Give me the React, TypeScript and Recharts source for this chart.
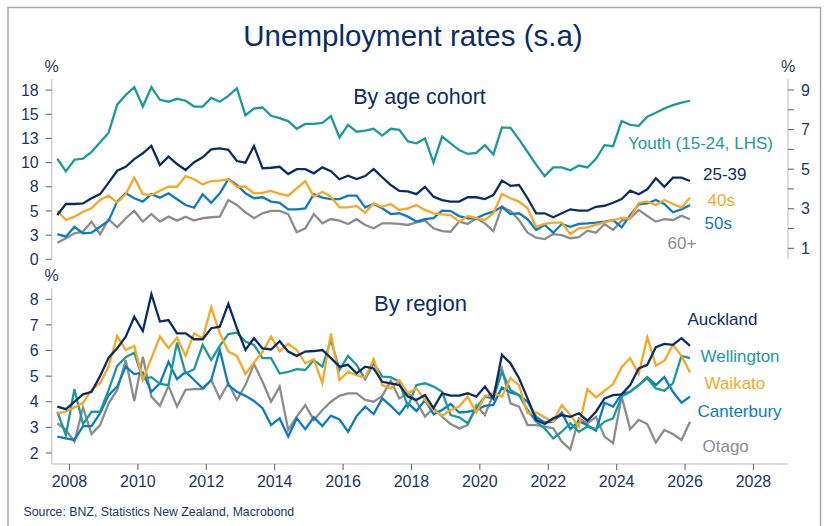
import React from 'react';
import { LineChart, Line, XAxis, YAxis } from 'recharts';

// Quarterly observations, 2007Q3 .. 2026Q1
const START_YEAR = 2007;
const START_Q = 3;
const N = 75;
const quarters: string[] = [];
for (let i = 0; i < N; i++) {
  const q = START_Q - 1 + i;
  quarters.push(`${START_YEAR + Math.floor(q / 4)}Q${(q % 4) + 1}`);
}
const quarterToYear = (s: string) => {
  const [y, q] = s.split('Q');
  return Number(y) + (Number(q) - 1) * 0.25 + 0.145;
};

// By age cohort
const youth = [10.4, 9.1, 10.3, 10.4, 11.1, 12.1, 13.1, 16.0, 17.0, 17.8,
  15.8, 17.8, 16.5, 16.3, 16.6, 16.4, 15.8, 15.8, 16.7, 16.3,
  16.9, 17.7, 14.9, 15.6, 15.7, 14.85, 14.6, 14.3, 13.5, 14.0,
  14.0, 14.1, 14.8, 12.6, 13.9, 13.2, 13.3, 13.5, 12.8, 13.5,
  13.4, 12.2, 12.0, 12.5, 10.0, 12.7, 12.0, 11.3, 10.9, 11.0,
  11.8, 10.85, 13.65, 13.6, 12.4, 11.1, 9.8, 8.6, 9.5, 9.5,
  9.2, 9.7, 9.5, 10.4, 11.8, 11.7, 14.3, 13.9, 13.8, 14.75,
  15.15, 15.6, 15.95, 16.2, 16.4];
const age25to39 = [2.68, 3.24, 3.24, 3.27, 3.53, 3.74, 4.32, 4.92, 5.12, 5.51, 5.8, 6.17, 5.21, 5.63, 5.26, 4.96, 5.35, 5.6, 6.0, 6.05, 5.98, 5.41, 5.33, 6.17, 5.04, 5.07, 5.12,
  4.75, 5.0, 5.0, 4.79, 5.09, 4.9, 4.49, 4.67, 4.5, 4.65, 5.0, 4.59, 4.2, 3.9, 3.88, 3.74, 4.11, 3.61, 3.44, 3.36, 3.36, 3.58, 3.58, 3.49, 3.69, 4.42, 4.16, 4.2, 3.53, 2.77,
  2.77, 2.57, 2.77, 2.97, 2.9, 2.9, 3.1, 3.15, 3.3, 3.49, 3.91, 3.73, 3.98, 4.54, 4.11, 4.57, 4.57, 4.4];
const age40s = [2.9, 2.43, 2.6, 2.85, 3.02, 3.44, 3.66, 3.3, 3.74, 4.57, 3.74, 3.69, 3.91, 4.11, 4.11, 4.65, 4.49, 4.23, 4.4, 4.42, 4.49, 4.11, 4.11, 3.78, 3.8, 3.9, 3.75,
  3.66, 4.03, 4.4, 3.61, 3.86, 3.61, 3.07, 3.07, 3.14, 2.8, 3.27, 3.1, 3.24, 2.94, 3.02, 3.19, 2.94, 2.77, 2.72, 2.68, 2.35, 2.63, 2.52, 2.43, 2.77, 3.74, 3.53, 3.36, 3.02, 2.09,
  2.23, 2.3, 2.3, 1.72, 2.01, 2.06, 2.18, 2.31, 2.43, 2.52, 2.52, 3.3, 3.36, 3.19, 3.44, 3.24, 3.07, 3.56];
const age50s = [1.72, 1.59, 2.09, 1.76, 1.79, 2.09, 2.4, 3.36, 3.78, 3.53, 3.36, 3.74, 3.56, 3.78, 3.48, 3.19, 3.05, 3.73, 3.3, 3.78, 4.49, 4.2, 3.78, 3.53, 3.58, 3.36, 3.3,
  2.97, 2.97, 3.02, 3.74, 3.56, 3.49, 3.49, 3.66, 3.66, 3.07, 3.24, 3.02, 2.73, 2.77, 2.6, 2.35, 2.47, 2.52, 2.9, 2.88, 2.63, 2.52, 2.52, 2.72, 2.85, 3.1, 2.73, 2.77, 2.47, 1.93,
  2.18, 1.79, 2.23, 2.09, 2.23, 2.26, 2.3, 2.35, 2.43, 2.06, 2.68, 3.22, 3.27, 3.44, 3.24, 2.82, 2.97, 3.19];
const age60plus = [1.28, 1.51, 1.76, 1.84, 2.35, 1.71, 2.47, 2.06, 2.52, 2.89, 2.35, 2.73, 2.35, 2.6, 2.4, 2.6, 2.4, 2.52, 2.57, 2.6, 3.44, 3.19, 2.82, 2.52, 2.77, 2.89, 2.89,
  2.73, 1.81, 2.01, 2.73, 2.26, 2.48, 2.4, 2.23, 2.47, 2.18, 2.01, 2.26, 2.26, 2.23, 2.18, 2.31, 2.4, 2.01, 1.87, 1.84, 2.35, 2.23, 2.52, 2.26, 1.87, 3.1, 2.89, 2.43, 1.79, 1.54,
  1.47, 1.72, 1.67, 1.51, 1.56, 1.89, 1.79, 2.23, 1.93, 2.4, 2.52, 2.94, 2.63, 2.35, 2.47, 2.43, 2.65, 2.47];

// By region
const auckland = [3.81, 3.71, 4.0, 4.29, 4.39, 5.0, 5.72, 6.09, 6.54, 7.32, 6.76, 8.2, 7.13, 7.19, 6.67, 6.67, 6.44, 6.44, 6.87, 6.93, 7.82, 6.87, 6.02, 6.48, 6.08, 6.04, 6.36,
  5.96, 5.79, 5.96, 5.98, 6.02, 5.7, 5.37, 5.44, 5.11, 5.37, 5.3, 4.78, 4.72, 4.65, 4.2, 4.07, 4.26, 3.75, 4.33, 4.24, 4.24, 4.33, 4.2, 4.59, 4.13, 5.83, 5.5, 4.92, 4.13, 3.29,
  3.13, 3.35, 3.48, 3.41, 3.55, 3.26, 3.61, 4.13, 4.26, 4.29, 4.65, 5.3, 5.44, 6.13, 6.26, 6.22, 6.48, 6.18];
const wellington = [3.61, 2.7, 4.49, 3.13, 3.61, 3.61, 4.46, 5.4, 5.74, 5.92, 4.88, 4.96, 4.7, 4.65, 6.31, 5.11, 5.27, 6.22, 5.63, 6.18, 6.64, 6.7, 6.35, 6.22, 5.7, 5.7, 5.1,
  5.17, 5.27, 5.24, 5.63, 5.37, 6.41, 5.24, 5.79, 5.44, 4.88, 5.5, 4.98, 4.96, 4.78, 3.81, 4.65, 4.72, 4.59, 4.39, 3.48, 3.39, 3.16, 3.75, 4.2, 4.13, 5.17, 4.46, 4.26, 3.68, 3.22,
  2.96, 2.57, 2.83, 3.16, 2.83, 3.03, 2.93, 3.22, 3.35, 4.2, 4.39, 4.65, 4.92, 4.52, 4.43, 4.72, 5.79, 5.7];
const waikato = [3.55, 3.61, 3.78, 3.96, 4.46, 4.72, 5.37, 6.57, 6.02, 6.18, 4.85, 5.7, 6.54, 6.09, 6.5, 5.79, 6.67, 6.48, 7.69, 6.67, 5.96, 5.79, 5.08, 5.53, 5.95, 6.54, 5.96,
  6.26, 6.02, 5.5, 5.66, 4.72, 6.67, 4.85, 5.17, 5.04, 4.94, 5.66, 4.65, 4.52, 4.85, 4.33, 4.52, 4.07, 3.68, 3.45, 3.68, 3.81, 4.2, 3.58, 4.2, 4.33, 4.2, 4.92, 4.65, 3.55, 3.58,
  3.39, 3.22, 3.87, 3.48, 3.03, 4.49, 4.17, 4.43, 4.69, 5.35, 5.7, 5.08, 6.52, 5.41, 5.6, 6.22, 5.79, 5.14];
const canterbury = [2.64, 2.57, 2.51, 3.05, 3.05, 3.55, 4.26, 4.59, 5.37, 5.08, 5.14, 4.39, 4.72, 5.56, 4.88, 5.17, 4.85, 4.52, 4.85, 6.02, 4.65, 4.39, 4.23, 4.03, 3.75, 3.09, 3.35,
  2.64, 3.35, 2.93, 3.39, 3.05, 3.46, 3.31, 2.83, 3.44, 3.81, 3.52, 4.13, 3.84, 3.51, 3.94, 3.64, 4.07, 3.51, 3.68, 3.91, 3.58, 3.61, 3.68, 3.84, 3.88, 4.56, 4.36, 4.26, 4.0, 3.41,
  3.19, 3.22, 3.58, 2.93, 3.24, 3.08, 2.87, 3.96, 3.81, 4.3, 4.39, 4.65, 4.96, 4.65, 4.96, 4.39, 3.96, 4.2];
const otago = [3.16, 2.9, 2.44, 3.78, 2.74, 3.09, 3.94, 4.46, 5.63, 4.03, 5.76, 4.2, 3.84, 4.62, 3.81, 4.46, 4.49, 4.49, 4.85, 4.13, 4.72, 4.07, 4.65, 5.47, 4.78, 4.0, 4.59,
  2.9, 3.42, 3.87, 3.29, 3.68, 4.0, 4.23, 4.33, 4.33, 4.07, 4.0, 4.23, 4.82, 4.13, 4.33, 4.0, 3.42, 3.75, 3.42, 3.13, 2.96, 3.09, 3.87, 3.48, 4.3, 5.3, 3.94, 3.81, 3.09, 3.09,
  3.03, 2.96, 2.44, 2.14, 3.35, 3.16, 3.41, 2.64, 2.38, 4.2, 2.93, 3.29, 3.13, 2.41, 2.9, 2.74, 2.51, 3.22];

const leftTicksTop = [0, 2.5, 5, 7.5, 10, 12.5, 15, 17.5];
const rightTicksTop = [1, 2, 3, 4, 5, 6, 7, 8, 9];
const ticksBottomY = [2, 3, 4, 5, 6, 7, 8];
const yearTicks = [2008, 2010, 2012, 2014, 2016, 2018, 2020, 2022, 2024, 2026, 2028];

const rows = quarters.map((q, i) => ({
  t: quarterToYear(q),
  youth: youth[i],
  a25: age25to39[i],
  a40: age40s[i],
  a50: age50s[i],
  a60: age60plus[i],
  auckland: auckland[i],
  wellington: wellington[i],
  waikato: waikato[i],
  canterbury: canterbury[i],
  otago: otago[i],
}));

const NAVY = '#0c2c66';
const TEAL = '#1a9a9b';
const ORANGE = '#f7a823';
const BLUE = '#0a7cc2';
const GRAY = '#8c8c8c';
const TEXT = '#1b3668';
const AXIS = '#d0d0d0';
const TICKLINE = '#51607e';
const FONT = '"Liberation Sans", Arial, sans-serif';
const X_DOMAIN: [number, number] = [2007.48, 2029.01];
const SW = 2.3;

const tickStyle = { fill: TEXT, fontSize: 16, fontFamily: FONT };

export default function App() {
  return (
    <div style={{ position: 'absolute', left: 0, top: 0, width: 827, height: 526, background: '#fff', overflow: 'hidden' }}>
      <div style={{ position: 'absolute', left: 0, top: 0 }}>
        <LineChart width={827} height={270} data={rows} margin={{ top: 79, right: 0, left: 0, bottom: 10.7 }}>
          <XAxis dataKey="t" type="number" domain={X_DOMAIN} allowDataOverflow ticks={yearTicks} tick={false} tickLine={false} height={0} axisLine={{ stroke: AXIS, strokeWidth: 1.5 }} />
          <YAxis yAxisId="L" orientation="left" width={51.7} domain={[0, 18.65]} allowDataOverflow ticks={leftTicksTop}
            tickFormatter={(v: number) => String(Math.round(v))} tick={tickStyle} tickSize={6} tickMargin={7}
            tickLine={{ stroke: TICKLINE }} axisLine={{ stroke: AXIS, strokeWidth: 1.5 }} interval={0} />
          <YAxis yAxisId="R" orientation="right" width={39} domain={[0.445, 9.555]} allowDataOverflow ticks={rightTicksTop}
            tickFormatter={(v: number) => (v % 2 === 1 ? String(v) : '')} tick={tickStyle} tickSize={6} tickMargin={7}
            tickLine={{ stroke: TICKLINE }} axisLine={{ stroke: AXIS, strokeWidth: 1.5 }} interval={0} />
          <Line yAxisId="L" dataKey="youth" stroke={TEAL} strokeWidth={SW} dot={false} isAnimationActive={false} />
          <Line yAxisId="R" dataKey="a60" stroke={GRAY} strokeWidth={SW} dot={false} isAnimationActive={false} />
          <Line yAxisId="R" dataKey="a50" stroke={BLUE} strokeWidth={SW} dot={false} isAnimationActive={false} />
          <Line yAxisId="R" dataKey="a40" stroke={ORANGE} strokeWidth={SW} dot={false} isAnimationActive={false} />
          <Line yAxisId="R" dataKey="a25" stroke={NAVY} strokeWidth={SW} dot={false} isAnimationActive={false} />
        </LineChart>
      </div>
      <div style={{ position: 'absolute', left: 0, top: 270 }}>
        <LineChart width={827} height={256} data={rows} margin={{ top: 18, right: 39, left: 0, bottom: 32 }}>
          <XAxis dataKey="t" type="number" domain={X_DOMAIN} allowDataOverflow ticks={yearTicks} interval={0}
            tick={tickStyle} tickSize={6} tickMargin={6} height={30}
            tickLine={{ stroke: TICKLINE }} axisLine={{ stroke: AXIS, strokeWidth: 1.5 }} />
          <YAxis orientation="left" width={51.7} domain={[1.57, 8.44]} allowDataOverflow ticks={ticksBottomY} interval={0}
            tick={tickStyle} tickSize={6} tickMargin={7}
            tickLine={{ stroke: TICKLINE }} axisLine={{ stroke: AXIS, strokeWidth: 1.5 }} />
          <Line dataKey="otago" stroke={GRAY} strokeWidth={SW} dot={false} isAnimationActive={false} />
          <Line dataKey="canterbury" stroke={BLUE} strokeWidth={SW} dot={false} isAnimationActive={false} />
          <Line dataKey="wellington" stroke={TEAL} strokeWidth={SW} dot={false} isAnimationActive={false} />
          <Line dataKey="waikato" stroke={ORANGE} strokeWidth={SW} dot={false} isAnimationActive={false} />
          <Line dataKey="auckland" stroke={NAVY} strokeWidth={SW} dot={false} isAnimationActive={false} />
        </LineChart>
      </div>
      <svg width={827} height={526} style={{ position: 'absolute', left: 0, top: 0, pointerEvents: 'none' }} fontFamily={FONT}>
        <rect x={8} y={7.5} width={812.5} height={530} fill="none" stroke="#a8a8a8" strokeWidth={1.5} />
        <text x={413} y={45.5} textAnchor="middle" fontSize={29.5} fill={NAVY}>Unemployment rates (s.a)</text>
        <text x={51.5} y={71.5} textAnchor="middle" fontSize={16} fill={TEXT}>%</text>
        <text x={788} y={71.5} textAnchor="middle" fontSize={16} fill={TEXT}>%</text>
        <text x={51.5} y={281} textAnchor="middle" fontSize={16} fill={TEXT}>%</text>
        <text x={419.5} y={103.5} textAnchor="middle" fontSize={21.5} fill={NAVY}>By age cohort</text>
        <text x={420.5} y={311} textAnchor="middle" fontSize={22} fill={NAVY}>By region</text>
        <text x={628} y={148.5} fontSize={17} fill={TEAL}>Youth (15-24, LHS)</text>
        <text x={703} y={180} fontSize={17} fill={NAVY}>25-39</text>
        <text x={707.5} y={205.5} fontSize={17} fill={ORANGE}>40s</text>
        <text x={704.5} y={229} fontSize={17} fill={BLUE}>50s</text>
        <text x={667.5} y={248.5} fontSize={17} fill={GRAY}>60+</text>
        <text x={687.5} y={324.5} fontSize={17} fill={NAVY}>Auckland</text>
        <text x={700.5} y={362} fontSize={17} fill={TEAL}>Wellington</text>
        <text x={704.5} y={389} fontSize={17} fill={ORANGE}>Waikato</text>
        <text x={697.5} y={416.5} fontSize={17} fill={BLUE}>Canterbury</text>
        <text x={702.5} y={451.5} fontSize={17} fill={GRAY}>Otago</text>
        <text x={23.5} y={516} fontSize={12.3} fill={TEXT}>Source: BNZ, Statistics New Zealand, Macrobond</text>
      </svg>
    </div>
  );
}
